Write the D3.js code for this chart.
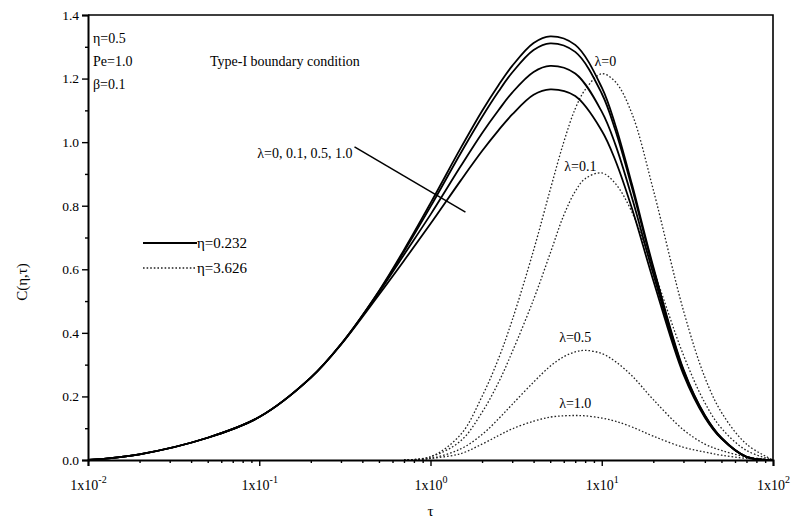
<!DOCTYPE html>
<html>
<head>
<meta charset="utf-8">
<script src="https://cdn.jsdelivr.net/npm/d3@7"></script>
<style>
    body { margin: 0; background: #fff; }
    text { font-family: "Liberation Serif", "DejaVu Serif", serif; fill: #000; }
</style>
</head>
<body>
<div id="chart"></div>
<script>
// eta = 0.232 (solid), one series per lambda
var tauSolid = [0.01, 0.02, 0.05, 0.1, 0.2, 0.3, 0.5, 0.7, 1, 1.5, 2, 2.5, 3, 4, 5, 7, 10, 12, 15, 20, 30, 40, 50, 70, 100];
var solidLambda0 = [0, 0.018, 0.07, 0.135, 0.259, 0.364, 0.532, 0.661, 0.808, 0.981, 1.098, 1.18, 1.24, 1.312, 1.333, 1.306, 1.172, 1.054, 0.868, 0.608, 0.285, 0.141, 0.07, 0.01, 0];
var solidLambda01 = [0, 0.018, 0.07, 0.135, 0.259, 0.364, 0.53, 0.656, 0.797, 0.965, 1.079, 1.16, 1.219, 1.29, 1.311, 1.284, 1.153, 1.038, 0.857, 0.601, 0.282, 0.14, 0.069, 0.01, 0];
var solidLambda05 = [0, 0.018, 0.07, 0.135, 0.259, 0.364, 0.527, 0.646, 0.772, 0.924, 1.028, 1.101, 1.156, 1.221, 1.24, 1.216, 1.096, 0.993, 0.826, 0.585, 0.276, 0.137, 0.068, 0.01, 0];
var solidLambda1 = [0, 0.018, 0.07, 0.135, 0.259, 0.363, 0.52, 0.627, 0.743, 0.879, 0.972, 1.038, 1.087, 1.149, 1.166, 1.145, 1.036, 0.943, 0.792, 0.565, 0.269, 0.134, 0.067, 0.01, 0];

// eta = 3.626 (dotted)
var tauDotted = [0.7, 1, 1.5, 2, 2.5, 3, 4, 5, 6, 7, 8, 10, 12, 15, 20, 30, 40, 50, 70, 100];
var dottedLambda0 = [0, 0.01, 0.08, 0.2, 0.32, 0.44, 0.66, 0.85, 1.0, 1.105, 1.165, 1.215, 1.19, 1.09, 0.85, 0.47, 0.26, 0.15, 0.05, 0];
var dottedLambda01 = [0, 0.01, 0.06, 0.15, 0.245, 0.34, 0.505, 0.65, 0.77, 0.845, 0.885, 0.903, 0.87, 0.78, 0.6, 0.33, 0.18, 0.1, 0.03, 0];
var dottedLambda05 = [0, 0.005, 0.035, 0.08, 0.13, 0.175, 0.245, 0.295, 0.325, 0.34, 0.345, 0.335, 0.31, 0.265, 0.19, 0.095, 0.05, 0.03, 0.01, 0];
var dottedLambda1 = [0, 0.005, 0.02, 0.05, 0.077, 0.098, 0.122, 0.135, 0.139, 0.14, 0.139, 0.132, 0.122, 0.104, 0.075, 0.04, 0.025, 0.015, 0.005, 0];

var yTicks = [0, 0.2, 0.4, 0.6, 0.8, 1.0, 1.2, 1.4];
var xTickExponents = [-2, -1, 0, 1, 2];

// lambda labels of the dotted curves: text, tau, C
var dottedLabels = [
    { text: "λ=0", tau: 10.5, c: 1.24 },
    { text: "λ=0.1", tau: 7.5, c: 0.91 },
    { text: "λ=0.5", tau: 7, c: 0.37 },
    { text: "λ=1.0", tau: 7, c: 0.165 }
];

(function (selector) {
    var svg = d3.select(selector).append("svg")
        .attr("width", 791)
        .attr("height", 526);

    var margin = { top: 15, right: 18, bottom: 66, left: 88 },
        width = +svg.attr("width") - margin.left - margin.right,
        height = +svg.attr("height") - margin.top - margin.bottom,
        g = svg.append("g").attr("transform", "translate(" + margin.left + "," + margin.top + ")");

    var x = d3.scaleLog().domain([0.01, 100]).range([0, width]);
    var y = d3.scaleLinear().domain([0, 1.4]).range([height, 0]);

    svg.append("clipPath").attr("id", "plot-area")
        .append("rect").attr("width", width).attr("height", height);

    function series(taus, values) {
        return taus.map(function (t, i) { return { t: t, c: values[i] }; });
    }

    var line = d3.line()
        .x(function (d) { return x(d.t); })
        .y(function (d) { return y(d.c); })
        .curve(d3.curveCatmullRom.alpha(0.5));

    var solid = [solidLambda0, solidLambda01, solidLambda05, solidLambda1];
    var dotted = [dottedLambda0, dottedLambda01, dottedLambda05, dottedLambda1];

    var plot = g.append("g").attr("clip-path", "url(#plot-area)");

    plot.append("g").selectAll("path")
        .data(dotted)
        .enter().append("path")
        .attr("d", function (d) { return line(series(tauDotted, d)); })
        .attr("fill", "none")
        .attr("stroke", "#222")
        .attr("stroke-width", 1.3)
        .attr("stroke-dasharray", "1.6,2");

    plot.append("g").selectAll("path")
        .data(solid)
        .enter().append("path")
        .attr("d", function (d) { return line(series(tauSolid, d)); })
        .attr("fill", "none")
        .attr("stroke", "#000")
        .attr("stroke-width", 1.8);

    // axes
    var minorX = [];
    [-2, -1, 0, 1].forEach(function (e) {
        for (var k = 2; k <= 9; k++) minorX.push(k * Math.pow(10, e));
    });
    var xAxis = d3.axisBottom(x)
        .tickValues(xTickExponents.map(function (e) { return Math.pow(10, e); }))
        .tickSize(6).tickFormat("");
    var gx = g.append("g").attr("transform", "translate(0," + height + ")").call(xAxis);
    g.append("g").attr("transform", "translate(0," + height + ")")
        .call(d3.axisBottom(x).tickValues(minorX).tickSize(3).tickFormat(""))
        .select(".domain").remove();

    var labels = gx.selectAll(".tick").append("text")
        .attr("y", 30)
        .attr("text-anchor", "middle")
        .attr("font-size", 14);
    labels.append("tspan").text("1x10");
    labels.append("tspan")
        .attr("dy", -7)
        .attr("font-size", 10)
        .text(function (d) { return Math.round(Math.log10(d)); });

    var minorY = d3.range(1, 14, 2).map(function (i) { return i / 10; });
    var gy = g.append("g").call(d3.axisLeft(y).tickValues(yTicks).tickSize(6).tickFormat(d3.format(".1f")));
    g.append("g").call(d3.axisLeft(y).tickValues(minorY).tickSize(3).tickFormat(""))
        .select(".domain").remove();

    g.selectAll(".domain").attr("stroke-width", 2);
    g.selectAll(".tick line").attr("stroke-width", 1.4);
    gy.selectAll(".tick text")
        .attr("font-size", 13.5)
        .attr("font-family", "Liberation Serif")
        .attr("x", -9);

    // frame top and right
    g.append("path")
        .attr("d", "M0,0H" + width + "V" + height)
        .attr("fill", "none")
        .attr("stroke", "#000")
        .attr("stroke-width", 1.6);

    // axis titles
    svg.append("text")
        .attr("x", margin.left + x(1))
        .attr("y", 516)
        .attr("text-anchor", "middle")
        .attr("font-size", 15)
        .text("τ");
    svg.append("text")
        .attr("transform", "translate(27," + (margin.top + y(0.56)) + ") rotate(-90)")
        .attr("text-anchor", "middle")
        .attr("font-size", 15)
        .text("C(η,τ)");

    // parameters
    var params = ["η=0.5", "Pe=1.0", "β=0.1"];
    g.append("g").selectAll("text")
        .data(params)
        .enter().append("text")
        .attr("x", 5)
        .attr("y", function (d, i) { return 28 + i * 23; })
        .attr("font-size", 14)
        .text(function (d) { return d; });
    g.append("text")
        .attr("x", 122)
        .attr("y", 51)
        .attr("font-size", 14)
        .text("Type-I boundary condition");

    // legend
    var legend = g.append("g").attr("transform", "translate(55,228)");
    legend.append("line").attr("x1", 0).attr("x2", 54).attr("y1", 0).attr("y2", 0)
        .attr("stroke", "#000").attr("stroke-width", 1.8);
    legend.append("line").attr("x1", 0).attr("x2", 54).attr("y1", 25).attr("y2", 25)
        .attr("stroke", "#222").attr("stroke-width", 1.3).attr("stroke-dasharray", "1.6,2");
    legend.append("text").attr("x", 54).attr("y", 5).attr("font-size", 15).text("η=0.232");
    legend.append("text").attr("x", 54).attr("y", 30).attr("font-size", 15).text("η=3.626");

    // solid-curve label with pointer line
    g.append("text")
        .attr("x", x(0.35))
        .attr("y", y(0.95))
        .attr("text-anchor", "end")
        .attr("font-size", 14)
        .text("λ=0, 0.1, 0.5, 1.0");
    g.append("line")
        .attr("x1", x(0.36)).attr("y1", y(0.985))
        .attr("x2", x(1.6)).attr("y2", y(0.78))
        .attr("stroke", "#000").attr("stroke-width", 1.5);

    // dotted-curve labels
    g.append("g").selectAll("text")
        .data(dottedLabels)
        .enter().append("text")
        .attr("x", function (d) { return x(d.tau); })
        .attr("y", function (d) { return y(d.c); })
        .attr("text-anchor", "middle")
        .attr("font-size", 14)
        .text(function (d) { return d.text; });
})("#chart");
</script>
</body>
</html>
